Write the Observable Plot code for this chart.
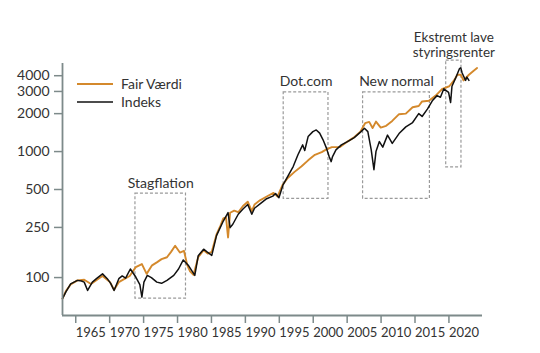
<!DOCTYPE html>
<html><head><meta charset="utf-8">
<script src="https://cdn.jsdelivr.net/npm/d3@7"></script>
<script src="https://cdn.jsdelivr.net/npm/@observablehq/plot@0.6"></script>
<style>body{margin:0;background:#fff;}</style>
</head><body><div id="chart"></div>
<script>
const indexYears = [1962.9,1963.4,1964.1,1964.6,1965.1,1965.7,1966.1,1966.6,1967.3,1967.9,1968.8,1969.5,1970.0,1970.5,1971.2,1971.7,1972.2,1972.9,1973.7,1974.3,1974.6,1974.9,1975.4,1976.0,1976.8,1977.5,1978.3,1979.3,1980.0,1980.7,1981.5,1982.4,1982.9,1983.7,1984.2,1984.9,1985.6,1986.6,1987.3,1987.6,1988.0,1988.8,1989.5,1990.2,1990.8,1991.2,1992.2,1992.9,1993.9,1994.3,1994.8,1995.4,1996.1,1996.9,1997.6,1998.3,1998.6,1999.1,1999.8,2000.3,2000.8,2001.3,2001.8,2002.2,2002.5,2002.7,2003.2,2004.0,2004.9,2005.9,2006.9,2007.4,2007.9,2008.4,2008.8,2009.1,2009.6,2010.1,2010.8,2011.5,2012.5,2013.5,2014.5,2015.4,2015.9,2016.7,2017.4,2018.1,2018.6,2019.1,2019.8,2020.1,2020.3,2020.8,2021.4,2021.6,2021.8,2022.3,2022.5,2022.8];
const indexValues = [68,77,89,92,95,94,92,79,92,98,107,98,90,79,98,103,99,117,101,88,70,92,104,100,92,90,95,104,117,138,124,104,149,168,160,150,215,281,328,249,265,318,350,380,318,355,392,420,443,465,430,544,635,761,943,1130,1020,1315,1440,1485,1400,1240,1065,913,832,913,1031,1130,1200,1290,1440,1530,1440,1031,718,1000,1200,1085,1350,1160,1390,1570,1700,2000,1900,2180,2530,2780,2700,3150,2950,2450,3300,3790,4550,4620,4200,3670,3900,3670];

const fairYears = [1962.9,1963.4,1964.1,1965.1,1966.1,1967.1,1968.2,1968.8,1969.9,1970.5,1971.2,1972.1,1972.8,1973.7,1974.6,1975.3,1976.1,1976.8,1977.5,1978.3,1978.9,1979.5,1980.2,1980.8,1981.3,1981.7,1982.2,1982.9,1983.7,1984.3,1984.9,1985.6,1986.2,1986.6,1987.0,1987.3,1987.6,1988.2,1988.8,1989.5,1990.2,1990.8,1991.2,1992.0,1993.0,1994.0,1994.6,1995.3,1996.1,1997.1,1998.1,1999.1,2000.1,2001.1,2001.8,2002.6,2003.8,2004.9,2005.8,2006.8,2007.5,2008.1,2008.6,2009.1,2009.8,2010.6,2011.5,2012.5,2013.5,2014.5,2015.4,2015.9,2016.9,2017.9,2018.9,2019.9,2020.6,2021.1,2021.6,2022.0,2022.8,2023.5,2024.0];
const fairValues = [68,78,88,95,96,89,98,103,92,80,92,98,103,121,128,107,125,132,140,145,160,179,158,163,125,112,105,145,165,155,160,220,260,295,300,208,327,340,330,370,400,337,380,410,440,470,440,540,617,690,761,852,943,990,1040,1085,1085,1200,1290,1440,1680,1720,1540,1730,1550,1600,1750,1980,2000,2250,2300,2500,2530,2780,3150,3300,3670,4070,4070,3670,4070,4380,4600];

const yTicks = [100, 250, 500, 1000, 2000, 3000, 4000];
const xTicks = [1965,1970,1975,1980,1985,1990,1995,2000,2005,2010,2015,2020];

const boxLabels = ["Stagflation", "Dot.com", "New normal", "Ekstremt lave\nstyringsrenter"];
const boxX1 = [1973.65, 1995.5, 2007.2, 2019.45];
const boxX2 = [1981.1, 2002.1, 2017.05, 2021.7];
const boxYLow = [68, 422, 422, 748];
const boxYHigh = [464, 2950, 2950, 5270];

const seriesNames = ["Fair Værdi", "Indeks"];
const seriesColors = ["#d4892c", "#111111"];

const fair = fairYears.map((y, i) => ({year: y, value: fairValues[i]}));
const idx = indexYears.map((y, i) => ({year: y, value: indexValues[i]}));
const boxes = boxLabels.map((l, i) => ({label: l, x1: boxX1[i], x2: boxX2[i], y1: boxYLow[i], y2: boxYHigh[i], xm: (boxX1[i] + boxX2[i]) / 2}));

const axisColor = "#7d8a8a";
const textColor = "#333333";
const xDomain = [1962.9, 2024.8];
const yDomain = [50, 5000];

const chart = Plot.plot({
  width: 540, height: 353,
  marginLeft: 62, marginRight: 58, marginTop: 63, marginBottom: 38,
  x: {domain: xDomain},
  y: {type: "log", domain: yDomain},
  style: {fontFamily: "Lato", fontSize: "14px", color: textColor, background: "#fff", overflow: "visible"},
  marks: [
    Plot.rect(boxes, {x1: "x1", x2: "x2", y1: "y1", y2: "y2", fill: "none", stroke: "#9a9a9a", strokeWidth: 1.2, strokeDasharray: "3,2"}),
    Plot.text(boxes.slice(0, 3), {x: "xm", y: "y2", text: "label", dy: -6, lineAnchor: "bottom", fill: textColor, fontSize: 14}),
    Plot.text(boxes.slice(3), {x: "xm", y: "y2", text: "label", dy: -4, lineAnchor: "bottom", fill: textColor, fontSize: 13.5, lineHeight: 1.08}),
    Plot.line(fair, {x: "year", y: "value", stroke: seriesColors[0], strokeWidth: 1.9}),
    Plot.line(idx, {x: "year", y: "value", stroke: seriesColors[1], strokeWidth: 1.5}),
    Plot.axisY({ticks: yTicks, tickSize: 8, tickPadding: 5, tickFormat: d => String(d), stroke: axisColor, strokeWidth: 1.5, fill: textColor, fontSize: 14, label: null}),
    Plot.axisX({ticks: xTicks, tickSize: 8, tickPadding: 4, tickFormat: d => String(d), textAnchor: "start", dx: -1, stroke: axisColor, strokeWidth: 1.5, fill: textColor, fontSize: 13, label: null}),
    Plot.ruleX([xDomain[0]], {stroke: axisColor, strokeWidth: 1.8}),
    Plot.ruleY([yDomain[0]], {stroke: axisColor, strokeWidth: 1.8})
  ]
});
document.getElementById("chart").appendChild(chart);

// legend inside the plot area
const svg = d3.select(chart);
const lg = svg.append("g").attr("font-family", "Lato").attr("font-size", 14).attr("fill", textColor).attr("text-anchor", "start");
seriesNames.forEach((name, i) => {
  const y = 84 + i * 18;
  lg.append("line").attr("x1", 77).attr("x2", 113).attr("y1", y).attr("y2", y)
    .attr("stroke", seriesColors[i]).attr("stroke-width", i === 0 ? 2 : 1.6);
  lg.append("text").attr("x", 121).attr("y", y).attr("dy", "0.35em").attr("text-anchor", "start").text(name);
});
</script></body></html>
